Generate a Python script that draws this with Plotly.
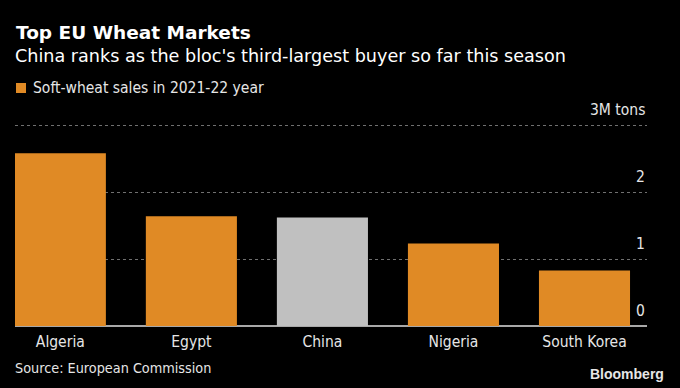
import plotly.graph_objects as go

countries = ["Algeria", "Egypt", "China", "Nigeria", "South Korea"]
sales = [2.58, 1.64, 1.62, 1.23, 0.83]
bar_colors = ["#E08A25", "#E08A25", "#C0C0C0", "#E08A25", "#E08A25"]
y_ticks = [0, 1, 2, 3]
y_tick_labels = ["0", "1", "2", "3M tons"]

FONT = "DejaVu Sans Condensed"
FONT_W = "DejaVu Sans"
TXT = "#E6E6E6"

W, H = 680, 388
L, R, T, B = 15, 680 - 647, 123, 388 - 326
ph = H - T - B
PW = W - L - R

def py(pix):
    return (H - B - pix) / ph

def px(pix):
    return (pix - L) / PW

fig = go.Figure()
fig.add_trace(go.Bar(x=countries, y=sales, marker=dict(color=bar_colors, line=dict(width=0)),
                     showlegend=False, hoverinfo="x+y"))

fig.update_layout(
    width=W, height=H,
    margin=dict(l=L, r=R, t=T, b=B, pad=0),
    paper_bgcolor="black", plot_bgcolor="black",
    bargap=0.305,
    font=dict(family=FONT, color=TXT, size=15),
    xaxis=dict(range=[-0.346, 4.477], showgrid=False, ticks="", showline=False,
               tickfont=dict(size=15.5, color=TXT, family=FONT), zeroline=False,
               ticklabelstandoff=4, fixedrange=True),
    yaxis=dict(range=[0, 3.03], showgrid=True, gridcolor="#707070", griddash="dot", gridwidth=1,
               tickvals=y_ticks, showticklabels=False, zeroline=True, zerolinecolor="#A8A8A8",
               zerolinewidth=2, fixedrange=True),
)

ann = []
for v, lab in zip(y_ticks, y_tick_labels):
    ann.append(dict(x=1, xref="paper", y=v, yref="y", text=lab, showarrow=False,
                    xanchor="right", yanchor="bottom", yshift=4,
                    font=dict(size=15.5, color=TXT, family=FONT)))
ann.append(dict(x=px(14), xref="paper", y=py(32), yref="paper",
                text="<b>Top EU Wheat Markets</b>", showarrow=False, xanchor="left", yanchor="middle",
                font=dict(size=18.5, color="#FFFFFF", family=FONT_W)))
ann.append(dict(x=px(13), xref="paper", y=py(56), yref="paper",
                text="China ranks as the bloc's third-largest buyer so far this season", showarrow=False,
                xanchor="left", yanchor="middle", font=dict(size=17.6, color="#FFFFFF", family=FONT_W)))
ann.append(dict(x=px(13), xref="paper", y=py(368), yref="paper",
                text="Source: European Commission", showarrow=False,
                xanchor="left", yanchor="middle", font=dict(size=14.3, color=TXT, family=FONT)))
ann.append(dict(x=px(666), xref="paper", y=py(374), yref="paper",
                text="<b>Bloomberg</b>", showarrow=False,
                xanchor="right", yanchor="middle", font=dict(size=14, color="#E6E6E6", family="Liberation Sans")))
ann.append(dict(x=px(31), xref="paper", y=py(88), yref="paper",
                text="Soft-wheat sales in 2021-22 year", showarrow=False,
                xanchor="left", yanchor="middle", font=dict(size=15.5, color=TXT, family=FONT)))
fig.update_layout(annotations=ann)
fig.add_shape(type="rect", xref="paper", yref="paper",
              x0=px(16), x1=px(26), y0=py(93), y1=py(83),
              fillcolor="#E08A25", line=dict(width=0))

fig.write_html("out.html", config={"displayModeBar": False},
               post_script="document.body.style.margin='0';document.body.style.background='black';")
